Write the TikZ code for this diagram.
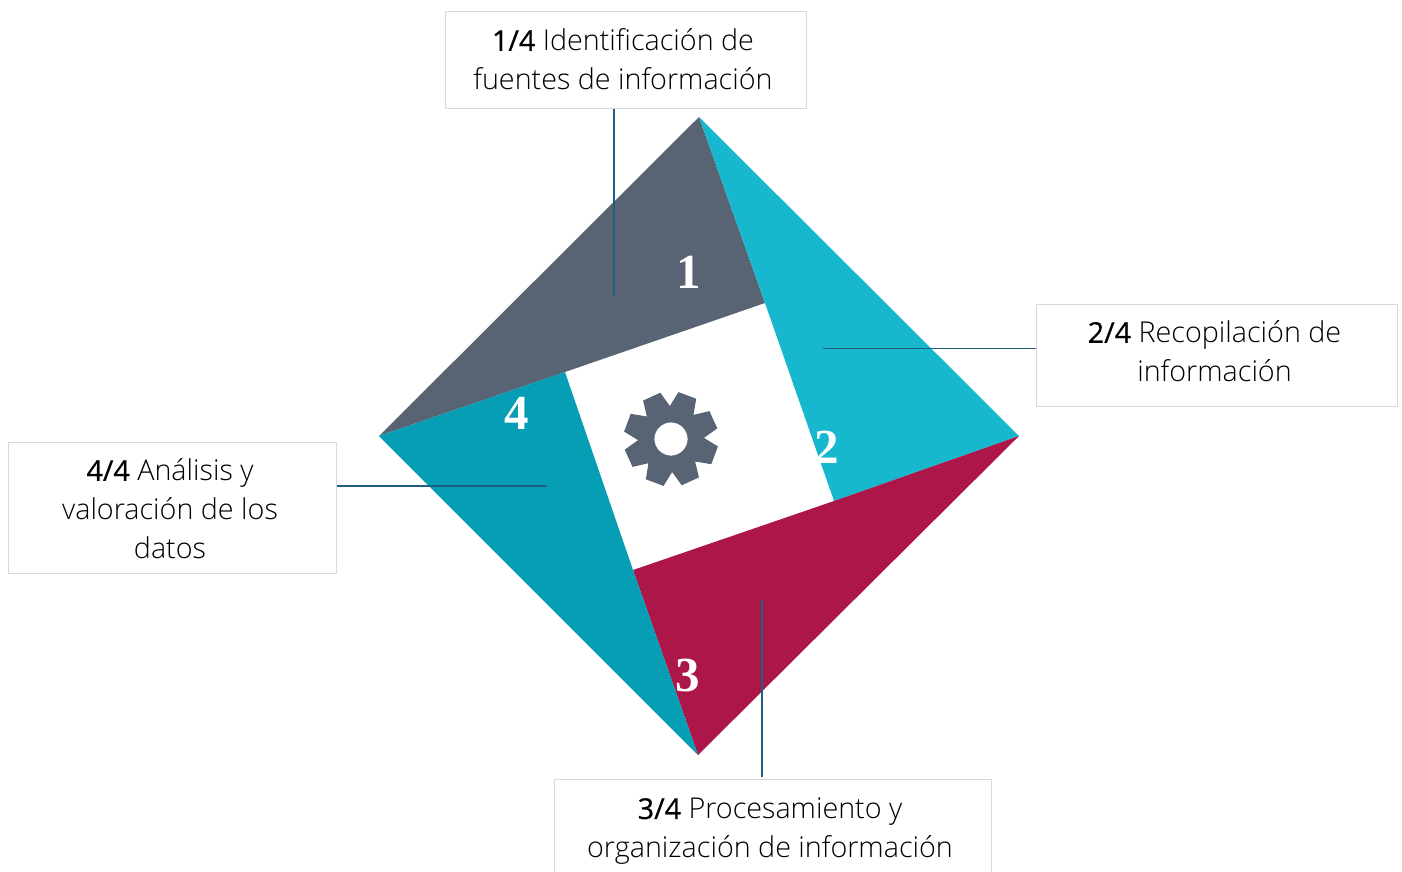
\documentclass[tikz,border=0pt]{standalone}
\usepackage{fontspec}
\setmainfont{Open Sans Light}[BoldFont={Open Sans},BoldFeatures={FakeBold=0.6}]
\newfontfamily\numfont{Liberation Serif}
\definecolor{slateC}{HTML}{586374}
\definecolor{cyanC}{HTML}{17B7CE}
\definecolor{redC}{HTML}{AD1649}
\definecolor{tealC}{HTML}{069EB5}
\definecolor{lineC}{HTML}{1F6080}
\definecolor{boxC}{HTML}{D9D9D9}
\tikzset{
 px/.style={x=1pt,y=-1pt},
 labbox/.style={draw=boxC,line width=.8pt,fill=white,inner sep=0pt},
 labtext/.style={align=center,font=\fontsize{28.7}{39}\selectfont,inner sep=0pt},
 conn/.style={draw=lineC,line width=1.3pt},
 num/.style={text=white,font=\numfont\bfseries\fontsize{49}{49}\selectfont,inner sep=0pt}
}
\begin{document}
\begin{tikzpicture}[px]
\useasboundingbox (0,0) rectangle (1402,871);
\coordinate (T) at (699,117);
\coordinate (R) at (1019,436);
\coordinate (B) at (698,755);
\coordinate (L) at (379,436);
\coordinate (a) at (765,303);
\coordinate (b) at (834,501);
\coordinate (c) at (633,570);
\coordinate (d) at (565,372);
\fill[slateC] (T) -- (a) -- (d) -- (L) -- cycle;
\fill[cyanC] (T) -- (R) -- (b) -- (a) -- cycle;
\fill[redC] (R) -- (B) -- (c) -- (b) -- cycle;
\fill[tealC] (B) -- (L) -- (d) -- (c) -- cycle;
\node[labbox,minimum width=361pt,minimum height=97pt] (n1) at (625.5,60) {};
\node[labbox,minimum width=361pt,minimum height=102pt] (n2) at (1217,355) {};
\node[labbox,minimum width=437pt,minimum height=112pt] (n3) at (772.5,835) {};
\node[labbox,minimum width=328pt,minimum height=131pt] (n4) at (172.5,508) {};
\node[labtext] (t1) at (623,59.5) {\textbf{1/4} Identificación de\\fuentes de información};
\node[labtext] (t2) at (1214.5,351.5) {\textbf{2/4} Recopilación de\\información};
\node[labtext] (t3) at (770,831.5) {\textbf{3/4} Procesamiento y\\organización de información};
\node[labtext] (t4) at (170,509) {\textbf{4/4} Análisis y\\valoración de los\\datos};
\coordinate (e1) at (614,296);
\coordinate (e2) at (823,348.5);
\coordinate (e3) at (762,600);
\coordinate (e4) at (547,486);
\coordinate (s1) at (614,109);
\coordinate (s2) at (1036,348.5);
\coordinate (s3) at (762,777);
\coordinate (s4) at (337,486);
\draw[conn] (s1) -- (e1);
\draw[conn] (s2) -- (e2);
\draw[conn] (s3) -- (e3);
\draw[conn] (s4) -- (e4);
\node[num] (m1) at (689,272) {1};
\node[num] (m2) at (827,447) {2};
\node[num] (m3) at (688,675.5) {3};
\node[num] (m4) at (517,413) {4};
\begin{scope}[shift={(671,439)}]
\fill[slateC,even odd rule] (-2:33)
 \foreach \t in {20.5,65.5,...,335.5} {
  -- ({\t-11.5}:47.5) -- ({\t+11.5}:47.5) -- ({\t+22.5}:33) } -- cycle
 (0,0) circle (16.6);
\end{scope}
\end{tikzpicture}
\end{document}
